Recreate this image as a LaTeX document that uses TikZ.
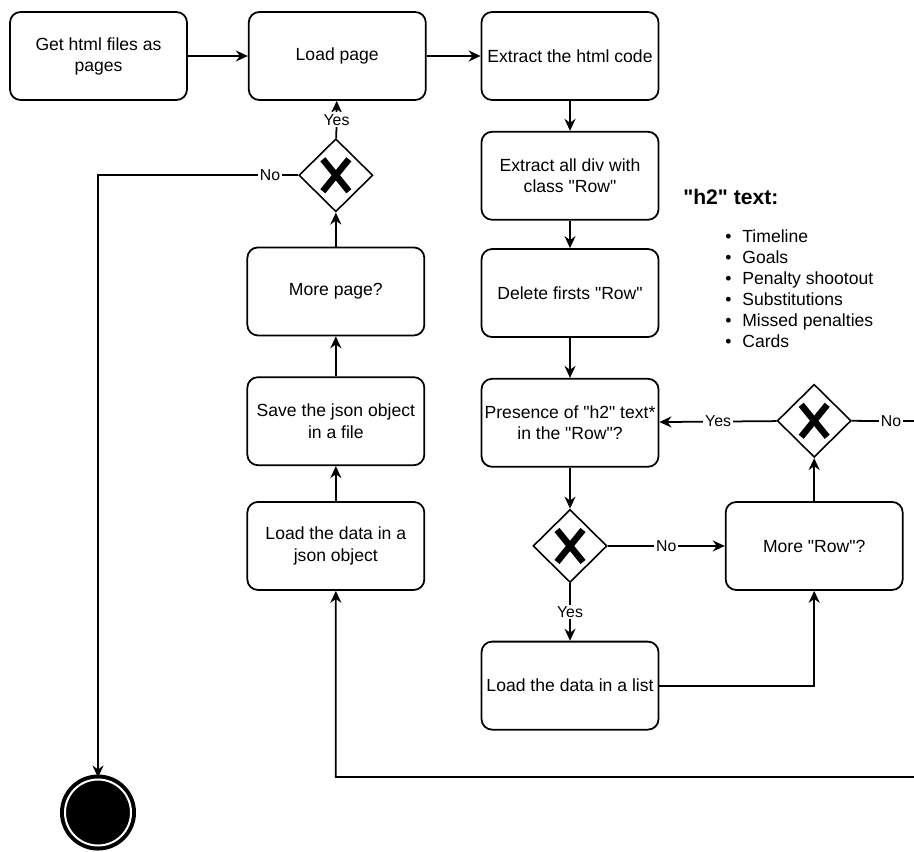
\documentclass[tikz,border=0pt]{standalone}
\usepackage{fontspec}
\setmainfont{Liberation Sans}[Ligatures=TeXOff]
\usetikzlibrary{shapes.geometric, arrows.meta, positioning}

\newcommand{\hitem}[1]{\makebox[0.34cm][l]{\textbullet}#1}

\begin{document}
\begin{tikzpicture}[
    node distance=0.6cm and 1.2cm,
    task/.style={rectangle, draw, line width=1pt, rounded corners=6pt, minimum width=3.54cm, minimum height=1.76cm, align=center, inner xsep=0pt, inner ysep=2pt},
    gateway/.style={diamond, draw, line width=0.9pt, minimum width=1.48cm, minimum height=1.46cm, inner sep=0pt, path picture={
        \draw[line width=0.13cm] ([shift={(-0.26cm,0.32cm)}]path picture bounding box.center) -- ([shift={(0.26cm,-0.32cm)}]path picture bounding box.center);
        \draw[line width=0.13cm] ([shift={(-0.26cm,-0.32cm)}]path picture bounding box.center) -- ([shift={(0.26cm,0.32cm)}]path picture bounding box.center);}},
    finish/.style={circle, draw=black, fill=black, line width=0.08cm, double=white, double distance=0.04cm, minimum size=1.32cm, inner sep=0pt},
    line/.style={draw, line width=1pt, -{Stealth[length=2.4mm, width=2.2mm]}},
    lbl/.style={fill=white, font=\small, inner sep=1pt}
]
\useasboundingbox (0,0) rectangle (18.28,-17.02);
\clip (0,0) rectangle (18.28,-17.02);

% Top row
\node[task] (get) at (1.97,-1.12) {Get html files as\\pages};
\node[task, right=of get] (load) {Load page};
\node[task, right=1.08cm of load] (extract) {Extract the html code};

% Row column
\node[task, below=of extract] (divs) {Extract all div with\\class "Row"};
\node[task, below=0.55cm of divs] (del) {Delete firsts "Row"};
\node[task, below=0.8cm of del] (presence) {Presence of "h2" text*\\in the "Row"?};
\node[gateway, below=0.82cm of presence] (gw1) {};
\node[task, below=1.15cm of gw1] (list) {Load the data in a list};
\node[task, right=2.34cm of gw1] (morerow) {More "Row"?};
\node[gateway, above=0.86cm of morerow] (gw2) {};

% Page column
\node[task, left=2.14cm of gw1] (json) {Load the data in a\\json object};
\node[task, above=0.7cm of json] (save) {Save the json object\\in a file};
\node[task, above=0.8cm of save] (morepage) {More page?};
\node[gateway, above=0.68cm of morepage] (gw3) {};

% End
\node[finish] (end) at (1.96,-16.25) {};

% h2 note
\node[anchor=west, inner sep=0pt, font=\large\bfseries] (h2title) at (13.66,-3.94) {"h2" text:};
\node[anchor=north west, inner sep=0pt, align=left] (h2list) at (14.5,-4.58) {\hitem{Timeline}\\\hitem{Goals}\\\hitem{Penalty shootout}\\\hitem{Substitutions}\\\hitem{Missed penalties}\\\hitem{Cards}};

\coordinate (loopr) at (18.6,-8.42);
\coordinate (loopb) at (18.6,-15.54);

% Draw lines
\draw[line] (get) -- (load);
\draw[line] (load) -- (extract);
\draw[line] (extract) -- (divs);
\draw[line] (divs) -- (del);
\draw[line] (del) -- (presence);
\draw[line] (presence) -- (gw1);
\draw[line] (gw1) -- node[lbl] {Yes} (list);
\draw[line] (gw1) -- node[lbl] {No} (morerow);
\draw[line] (list) -| (morerow);
\draw[line] (morerow) -- (gw2);
\draw[line] (gw2) -- node[lbl] {Yes} (presence);
\draw[line] (gw2) -- node[lbl] {No} (loopr) -- (loopb) -| (json);
\draw[line] (json) -- (save);
\draw[line] (save) -- (morepage);
\draw[line] (morepage) -- (gw3);
\draw[line] (gw3) -- node[lbl] {Yes} (load);
\draw[line] (gw3) -| node[lbl, pos=0.07] {No} (end);
\end{tikzpicture}
\end{document}
